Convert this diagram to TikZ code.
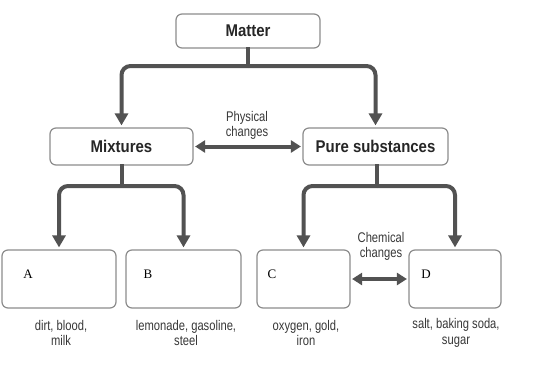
\documentclass[tikz,border=0pt]{standalone}
\usepackage{fontspec}
\setmainfont{Liberation Serif}
\newfontfamily\capfont[FakeStretch=0.8]{Liberation Sans}
\newfontfamily\titlefont[FakeStretch=0.88]{Liberation Sans}
\usetikzlibrary{arrows.meta}
\begin{document}
\begin{tikzpicture}[x=1pt,y=-1pt,
  box/.style={draw=black!45, line width=1.2pt, rounded corners=6pt, fill=white, inner sep=0pt},
  title/.style={font=\titlefont\bfseries\fontsize{17}{19}\selectfont, text=black!85},
  stem/.style={draw=black!68, line width=4pt, line cap=rect},
  conn/.style={draw=black!68, line width=4pt, rounded corners=9pt, -{Triangle[width=13pt,length=12pt]}, shorten >=2pt},
  dbl/.style={draw=black!68, line width=4pt, {Triangle[width=12pt,length=10pt]}-{Triangle[width=12pt,length=10pt]}, shorten >=1.5pt, shorten <=1.5pt},
  captxt/.style={font=\capfont\fontsize{14}{15.5}\selectfont, text=black!78, align=center},
  small/.style={font=\capfont\fontsize{14}{16}\selectfont, text=black!78, align=center},
  letter/.style={font=\fontsize{13}{15}\selectfont, text=black}]
\useasboundingbox[fill=white] (0,0) rectangle (551,364);
% nodes
\node[box, title, minimum width=144pt, minimum height=34pt] (mat) at (248,31) {Matter};
\node[box, title, minimum width=143pt, minimum height=37pt] (mix) at (121.5,146.5) {Mixtures};
\node[box, title, minimum width=145pt, minimum height=37pt] (pur) at (375.5,146.5) {Pure substances};
\node[box, minimum width=114pt, minimum height=58pt] (A) at (59,279) {};
\node[box, minimum width=115pt, minimum height=58pt] (B) at (183.5,279) {};
\node[box, minimum width=93pt, minimum height=58pt] (C) at (303.5,279) {};
\node[box, minimum width=92pt, minimum height=58pt] (D) at (455,279) {};
\node[letter] (la) at (28,274) {A};
\node[letter] (lb) at (148,274) {B};
\node[letter] (lc) at (272,274) {C};
\node[letter] (ld) at (426,274) {D};
\node[small] (phys) at (247,125) {Physical\\[-1pt]changes};
\node[small] (chem) at (381,246) {Chemical\\[-1pt]changes};
\node[captxt] (ca) at (61,333) {dirt, blood,\\milk};
\node[captxt] (cb) at (186,333) {lemonade, gasoline,\\steel};
\node[captxt] (cc) at (306,333) {oxygen, gold,\\iron};
\node[captxt] (cd) at (456,333) {salt, baking soda,\\sugar};
% coordinates
\coordinate (j1) at (248,66);
\coordinate (j2) at (121.5,186);
\coordinate (j3) at (377,186);
% connectors
\draw[stem] (mat.south) -- (j1);
\draw[stem] (mix.south) -- (j2);
\draw[stem] (pur.south -| j3) -- (j3);
\draw[conn] (j1) -| (mix.north);
\draw[conn] (j1) -| (pur.north);
\draw[conn] (j2) -| (A.north);
\draw[conn] (j2) -| (B.north);
\draw[conn] (j3) -| (C.north);
\draw[conn] (j3) -| (D.north);
\draw[dbl] (mix.east) -- (pur.west);
\draw[dbl] (C.east) -- (D.west);
\end{tikzpicture}
\end{document}
